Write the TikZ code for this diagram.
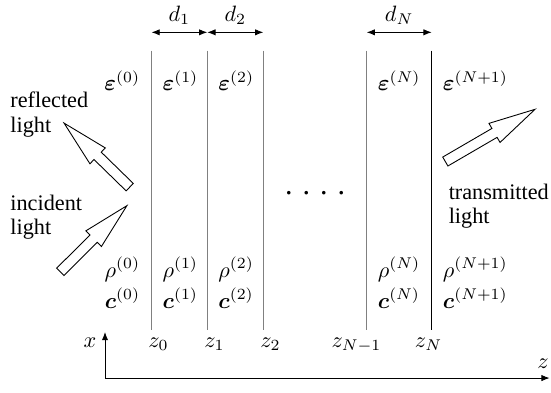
\documentclass[tikz,border=0pt]{standalone}
\usepackage{amsmath,amssymb,bm}
\usepackage{fontspec}
\setmainfont{Liberation Serif}
\usepackage{tikz}
\usetikzlibrary{arrows.meta,positioning,shapes.arrows,calc}
\tikzset{
  interface/.style={draw=gray,line width=0.5pt},
  lastinterface/.style={draw=black,line width=0.4pt},
  mediumlabel/.style={inner sep=0pt,font=\normalsize},
  zlabel/.style={inner sep=0pt,anchor=base},
  dimarrow/.style={{Latex[length=1.3mm,width=1mm]}-{Latex[length=1.3mm,width=1mm]},line width=0.4pt},
  axisarrow/.style={{Latex[length=1.3mm,width=1mm]}-{Latex[length=1.3mm,width=1mm]},line width=0.4pt},
  lightarrow/.style={single arrow,draw,line width=0.4pt,inner xsep=0pt,inner ysep=0.0745cm,minimum width=0pt,single arrow head extend=0.093cm,single arrow tip angle=26.5,single arrow head indent=0pt,anchor=tip},
  lighttext/.style={align=left,inner sep=0pt,anchor=west,font=\fontsize{10pt}{11pt}\selectfont}
}

\begin{document}
\begin{tikzpicture}
  \useasboundingbox (0,0) rectangle (8.711,6.198);

  % interfaces
  \coordinate (t0) at (2.395,5.396);  \coordinate (b0) at (2.395,0.980);
  \coordinate (t1) at (3.277,5.396);  \coordinate (b1) at (3.277,0.980);
  \coordinate (t2) at (4.163,5.396);  \coordinate (b2) at (4.163,0.980);
  \coordinate (tm) at (5.797,5.396);  \coordinate (bm) at (5.797,0.980);
  \coordinate (tn) at (6.825,5.396);  \coordinate (bn) at (6.825,0.980);
  \draw[interface] (t0) -- (b0);
  \draw[interface] (t1) -- (b1);
  \draw[interface] (t2) -- (b2);
  \draw[interface] (tm) -- (bm);
  \draw[lastinterface] (tn) -- (bn);

  % thicknesses
  \coordinate (d0) at (2.395,5.687);
  \coordinate (d1) at (3.277,5.687);
  \coordinate (d2) at (4.163,5.687);
  \coordinate (dm) at (5.797,5.687);
  \coordinate (dn) at (6.825,5.687);
  \draw[dimarrow] (d0) -- node[mediumlabel,above=0.11cm] (dlab1) {$d_1$} (d1);
  \draw[dimarrow] (d1) -- node[mediumlabel,above=0.11cm] (dlab2) {$d_2$} (d2);
  \draw[dimarrow] (dm) -- node[mediumlabel,above=0.11cm] (dlabn) {$d_N$} (dn);

  % media
  \node[mediumlabel,anchor=base east] (eps0) at (2.222,4.764) {$\boldsymbol{\varepsilon}^{(0)}$};
  \node[mediumlabel,anchor=base west] (eps1) at (2.565,4.764) {$\boldsymbol{\varepsilon}^{(1)}$};
  \node[mediumlabel,anchor=base west] (eps2) at (3.447,4.764) {$\boldsymbol{\varepsilon}^{(2)}$};
  \node[mediumlabel,anchor=base west] (epsn) at (5.967,4.764) {$\boldsymbol{\varepsilon}^{(N)}$};
  \node[mediumlabel,anchor=base west] (epsnn) at (6.995,4.764) {$\boldsymbol{\varepsilon}^{(N+1)}$};

  \node[mediumlabel,anchor=base east] (rho0) at (2.222,1.818) {$\rho^{(0)}$};
  \node[mediumlabel,anchor=base west] (rho1) at (2.565,1.818) {$\rho^{(1)}$};
  \node[mediumlabel,anchor=base west] (rho2) at (3.447,1.818) {$\rho^{(2)}$};
  \node[mediumlabel,anchor=base west] (rhon) at (5.967,1.818) {$\rho^{(N)}$};
  \node[mediumlabel,anchor=base west] (rhonn) at (6.995,1.818) {$\rho^{(N+1)}$};

  \node[mediumlabel,anchor=base east] (c0) at (2.222,1.328) {$\boldsymbol{c}^{(0)}$};
  \node[mediumlabel,anchor=base west] (c1) at (2.565,1.328) {$\boldsymbol{c}^{(1)}$};
  \node[mediumlabel,anchor=base west] (c2) at (3.447,1.328) {$\boldsymbol{c}^{(2)}$};
  \node[mediumlabel,anchor=base west] (cn) at (5.967,1.328) {$\boldsymbol{c}^{(N)}$};
  \node[mediumlabel,anchor=base west] (cnn) at (6.995,1.328) {$\boldsymbol{c}^{(N+1)}$};

  \node[inner sep=0pt,anchor=base,font=\fontsize{13.5pt}{16pt}\selectfont] (dots) at (4.983,3.13) {. . . .};

  % positions
  \node[zlabel] (zl0) at (2.506,0.711) {$z_0$};
  \node[zlabel] (zl1) at (3.391,0.711) {$z_1$};
  \node[zlabel] (zl2) at (4.277,0.711) {$z_2$};
  \node[zlabel] (zlm) at (5.636,0.711) {$z_{N-1}$};
  \node[zlabel] (zln) at (6.775,0.711) {$z_N$};

  % axes
  \coordinate (xtip) at (1.660,0.949);
  \coordinate (ztip) at (8.690,0.221);
  \draw[axisarrow] (xtip) |- (ztip);
  \node[zlabel] (xlab) at (1.423,0.711) {$x$};
  \node[zlabel] (zlab) at (8.585,0.379) {$z$};

  % light
  \node[lightarrow,minimum height=1.450cm,rotate=135.7] (refl) at (0.991,4.273) {};
  \node[lightarrow,minimum height=1.485cm,rotate=44.8] (inc) at (2.028,2.968) {};
  \node[lightarrow,minimum height=1.641cm,rotate=30.2] (trans) at (8.485,4.485) {};
  \node[lighttext] (refltext) at (0.158,4.39) {reflected\\light};
  \node[lighttext] (inctext) at (0.158,2.766) {incident\\light};
  \node[lighttext] (transtext) at (7.088,2.936) {transmitted\\light};
\end{tikzpicture}
\end{document}
